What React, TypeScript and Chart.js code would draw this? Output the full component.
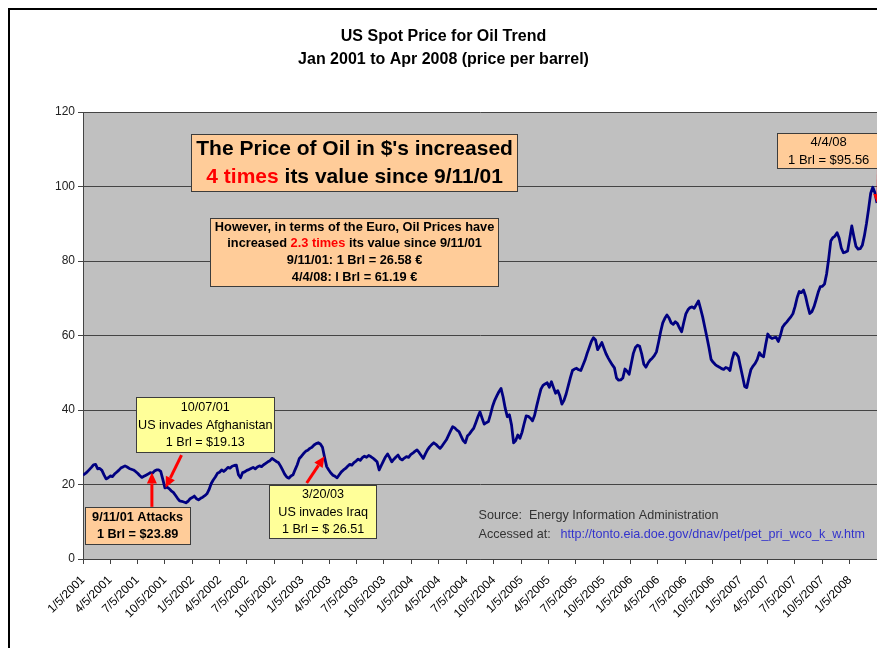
import { useEffect, useRef } from "react";
import { Chart, registerables } from "chart.js";

Chart.register(...registerables);

const FONT = '"Liberation Sans", Arial, Helvetica, sans-serif';

// Quarterly x-axis tick labels (Excel date axis)
const tickLabels = [
  "1/5/2001", "4/5/2001", "7/5/2001", "10/5/2001",
  "1/5/2002", "4/5/2002", "7/5/2002", "10/5/2002",
  "1/5/2003", "4/5/2003", "7/5/2003", "10/5/2003",
  "1/5/2004", "4/5/2004", "7/5/2004", "10/5/2004",
  "1/5/2005", "4/5/2005", "7/5/2005", "10/5/2005",
  "1/5/2006", "4/5/2006", "7/5/2006", "10/5/2006",
  "1/5/2007", "4/5/2007", "7/5/2007", "10/5/2007",
  "1/5/2008",
];
const firstWeek = "1/5/2001";
const yTickStep = 20;
const yMax = 120;

// Weekly spot price ($/barrel), one value per Friday starting 1/5/2001
const prices2001 = [
  22.5, 22.9, 23.4, 24.0, 24.6, 25.3, 25.4, 24.2, 24.3, 23.8, 22.6, 21.5, 21.8,
  22.3, 22.1, 22.8, 23.3, 23.8, 24.4, 24.7, 25.0, 24.7, 24.3, 24.1, 23.9, 23.5,
  23.0, 22.4, 21.9, 22.2, 22.5, 22.8, 23.2, 23.0, 23.6, 23.9, 23.9, 23.5, 21.4,
  19.1, 19.3, 18.9, 18.3, 17.9, 17.1, 16.3, 15.6, 15.5, 15.3, 15.1, 15.5, 16.2,
];
const prices2002 = [
  16.5, 16.9, 16.2, 15.9, 16.3, 16.6, 17.0, 17.5, 18.6, 20.2, 21.2, 22.0, 23.0,
  23.3, 23.9, 23.5, 24.0, 24.6, 24.4, 24.9, 25.1, 25.2, 22.6, 21.8, 23.2, 23.4,
  23.8, 24.0, 24.3, 24.6, 24.2, 24.7, 25.0, 24.8, 25.3, 25.7, 26.1, 26.4, 27.0,
  26.6, 26.2, 25.9, 25.0, 23.9, 22.8, 22.0, 21.7, 22.3, 22.6, 24.0, 25.3, 27.0,
];
const prices2003 = [
  27.6, 28.3, 28.9, 29.2, 29.7, 30.0, 30.6, 31.0, 31.2, 30.9, 30.0, 27.3, 24.8,
  23.9, 23.1, 22.5, 22.2, 21.8, 22.6, 23.4, 23.9, 24.3, 24.9, 25.4, 25.2, 25.9,
  26.3, 26.8, 26.5, 27.2, 27.6, 27.3, 27.8, 27.5, 27.1, 26.6, 26.1, 23.9, 25.1,
  26.3, 27.4, 28.2, 27.2, 26.1, 26.8, 27.4, 27.9, 26.9, 26.6, 27.1, 27.5, 27.3,
];
const prices2004 = [
  28.0, 28.4, 28.9, 29.3, 28.6, 27.8, 27.0, 28.2, 29.3, 30.1, 30.7, 31.2, 30.8,
  30.2, 29.7, 30.4, 31.2, 32.0, 33.2, 34.4, 35.5, 35.2, 34.6, 34.2, 33.0, 31.8,
  31.2, 33.0, 33.6, 34.4, 35.1, 36.6, 38.2, 39.5, 37.8, 36.2, 36.6, 36.9, 38.8,
  41.0, 42.6, 43.8, 44.9, 45.8, 43.5, 40.5, 38.2, 38.7, 36.0, 31.2, 31.8, 33.3, 32.4,
];
const prices2005 = [
  34.0, 36.3, 38.4, 38.3, 37.8, 37.1, 38.6, 41.1, 43.4, 45.6, 46.6, 47.0, 47.3,
  46.1, 47.6, 46.0, 44.5, 45.2, 43.8, 41.6, 42.6, 44.3, 46.5, 48.6, 50.6, 51.0,
  51.2, 50.8, 50.6, 52.0, 53.4, 55.2, 56.8, 58.4, 59.4, 58.8, 56.2, 57.1, 58.1,
  56.6, 55.1, 54.0, 53.0, 52.1, 51.3, 48.6, 48.0, 48.1, 48.6, 51.0, 50.4, 49.6,
];
const prices2006 = [
  52.4, 55.2, 56.8, 57.4, 57.1, 55.0, 52.3, 51.5, 52.6, 53.4, 53.9, 54.6, 55.6,
  58.2, 61.0, 63.4, 64.6, 65.5, 64.7, 63.4, 63.0, 63.7, 63.2, 62.0, 61.0, 63.5,
  65.8, 66.9, 67.5, 67.7, 67.3, 68.3, 69.3, 67.2, 65.0, 62.3, 59.6, 56.8, 53.6,
  52.8, 52.2, 51.8, 51.5, 51.1, 50.9, 51.4, 51.2, 50.6, 53.5, 55.4, 55.1, 54.3,
];
const prices2007 = [
  51.6, 49.0, 46.3, 46.0, 48.6, 50.9, 51.8, 52.5, 53.6, 55.4, 54.6, 54.3, 57.5,
  60.4, 59.6, 59.2, 59.4, 59.5, 58.4, 60.0, 62.2, 63.0, 63.6, 64.3, 65.0, 65.9,
  67.8, 70.2, 71.8, 71.5, 72.2, 70.5, 68.0, 65.9, 66.4, 67.7, 69.6, 71.6, 73.1,
  73.2, 73.8, 76.5, 80.6, 85.4, 86.3, 86.7, 87.6, 86.1, 83.5, 82.2, 82.4, 82.7,
];
const prices2008 = [
  86.0, 89.4, 86.5, 83.9, 83.2, 83.3, 84.2, 86.8, 90.1, 94.0, 98.2, 99.8, 98.3, 95.56,
];

const weeklyPrices = [
  ...prices2001, ...prices2002, ...prices2003, ...prices2004,
  ...prices2005, ...prices2006, ...prices2007, ...prices2008,
];

function weeksSinceStart(label: string): number {
  const [m, d, y] = label.split("/").map(Number);
  const [m0, d0, y0] = firstWeek.split("/").map(Number);
  return (Date.UTC(y, m - 1, d) - Date.UTC(y0, m0 - 1, d0)) / (7 * 86400000);
}
const tickWeeks = tickLabels.map(weeksSinceStart);

// ---------- annotations (positions in data units: week index, price) ----------
const RED = "#ff0000";
const PEACH = "#ffcc99";
const YELLOW = "#ffff99";
type Seg = { t: string; c?: string };
type Note = {
  w: number; v: number; width: number; height: number;
  fill: string; font: string; lineH: number; lines: Seg[][];
};
const notes: Note[] = [
  {
    w: 129.3, v: 106.3, width: 327, height: 58, fill: PEACH,
    font: `bold 21px ${FONT}`, lineH: 28,
    lines: [
      [{ t: "The Price of Oil in $'s increased" }],
      [{ t: "4 times", c: RED }, { t: " its value since 9/11/01" }],
    ],
  },
  {
    w: 129.3, v: 82.4, width: 289, height: 69, fill: PEACH,
    font: `bold 12.8px ${FONT}`, lineH: 16.7,
    lines: [
      [{ t: "However, in terms of the Euro, Oil Prices have" }],
      [{ t: "increased " }, { t: "2.3 times", c: RED }, { t: " its value since 9/11/01" }],
      [{ t: "9/11/01: 1 Brl = 26.58 €" }],
      [{ t: "4/4/08: l Brl = 61.19 €" }],
    ],
  },
  {
    w: 355.0, v: 109.5, width: 104, height: 36, fill: PEACH,
    font: `13px ${FONT}`, lineH: 17.7,
    lines: [[{ t: "4/4/08" }], [{ t: "1 Brl = $95.56" }]],
  },
  {
    w: 58.2, v: 35.9, width: 139, height: 56, fill: YELLOW,
    font: `12.6px ${FONT}`, lineH: 17.5,
    lines: [[{ t: "10/07/01" }], [{ t: "US invades Afghanistan" }], [{ t: "1 Brl = $19.13" }]],
  },
  {
    w: 26.0, v: 8.9, width: 106, height: 38, fill: PEACH,
    font: `bold 12.7px ${FONT}`, lineH: 17.3,
    lines: [[{ t: "9/11/01 Attacks" }], [{ t: "1 Brl = $23.89" }]],
  },
  {
    w: 114.3, v: 12.6, width: 108, height: 54, fill: YELLOW,
    font: `12.6px ${FONT}`, lineH: 17.5,
    lines: [[{ t: "3/20/03" }], [{ t: "US invades Iraq" }], [{ t: "1 Brl = $ 26.51" }]],
  },
];
// arrows: [fromWeek, fromValue, toWeek, toValue]
const arrows: [number, number, number, number][] = [
  [32.8, 14.0, 32.8, 23.2],
  [46.9, 27.9, 39.3, 19.1],
  [106.5, 20.4, 115.0, 27.6],
  [378.7, 104.7, 378.5, 95.0],
];
const sourceNote = { w: 188.3, v1: 11.6, v2: 6.6, urlOffset: 82 };

function drawArrow(ctx: CanvasRenderingContext2D, x1: number, y1: number, x2: number, y2: number) {
  const ang = Math.atan2(y2 - y1, x2 - x1);
  const head = 11;
  const half = 5;
  const bx = x2 - head * Math.cos(ang);
  const by = y2 - head * Math.sin(ang);
  ctx.strokeStyle = RED;
  ctx.fillStyle = RED;
  ctx.lineWidth = 3;
  ctx.lineCap = "butt";
  ctx.beginPath();
  ctx.moveTo(x1, y1);
  ctx.lineTo(bx, by);
  ctx.stroke();
  ctx.beginPath();
  ctx.moveTo(x2, y2);
  ctx.lineTo(bx + half * Math.sin(ang), by - half * Math.cos(ang));
  ctx.lineTo(bx - half * Math.sin(ang), by + half * Math.cos(ang));
  ctx.closePath();
  ctx.fill();
}

const notesPlugin = {
  id: "oilNotes",
  beforeDraw(chart: any) {
    const { ctx, chartArea: a } = chart;
    ctx.save();
    ctx.fillStyle = "#ffffff";
    ctx.fillRect(0, 0, chart.width, chart.height);
    ctx.fillStyle = "#c0c0c0";
    ctx.fillRect(a.left, a.top, a.right - a.left, a.bottom - a.top);
    ctx.restore();
  },
  afterDraw(chart: any) {
    const { ctx } = chart;
    const xs = chart.scales.x;
    const ys = chart.scales.y;
    const px = (w: number) => xs.getPixelForValue(w);
    const py = (v: number) => ys.getPixelForValue(v);
    ctx.save();

    for (const [w1, v1, w2, v2] of arrows) {
      drawArrow(ctx, px(w1), py(v1), px(w2), py(v2));
    }

    for (const n of notes) {
      const cx = px(n.w);
      const cy = py(n.v);
      const x0 = Math.round(cx - n.width / 2);
      const y0 = Math.round(cy - n.height / 2);
      ctx.fillStyle = n.fill;
      ctx.fillRect(x0, y0, n.width, n.height);
      ctx.strokeStyle = "#3c3c3c";
      ctx.lineWidth = 1;
      ctx.strokeRect(x0 + 0.5, y0 + 0.5, n.width - 1, n.height - 1);
      ctx.font = n.font;
      ctx.textBaseline = "middle";
      ctx.textAlign = "left";
      n.lines.forEach((line, i) => {
        const ly = cy + (i - (n.lines.length - 1) / 2) * n.lineH;
        const total = line.reduce((s, seg) => s + ctx.measureText(seg.t).width, 0);
        let lx = cx - total / 2;
        for (const seg of line) {
          ctx.fillStyle = seg.c || "#000000";
          ctx.fillText(seg.t, lx, ly);
          lx += ctx.measureText(seg.t).width;
        }
      });
    }

    // source text
    const sx = px(sourceNote.w);
    ctx.font = `12.6px ${FONT}`;
    ctx.textBaseline = "middle";
    ctx.textAlign = "left";
    ctx.fillStyle = "#333333";
    ctx.fillText("Source:  Energy Information Administration", sx, py(sourceNote.v1));
    ctx.fillText("Accessed at:", sx, py(sourceNote.v2));
    ctx.fillStyle = "#3333cc";
    ctx.fillText("http://tonto.eia.doe.gov/dnav/pet/pet_pri_wco_k_w.htm", sx + sourceNote.urlOffset, py(sourceNote.v2));
    ctx.restore();
  },
};

const CANVAS_W = 880;
const CANVAS_H = 660;

export default function App() {
  const ref = useRef<HTMLCanvasElement | null>(null);

  useEffect(() => {
    if (!ref.current) return;
    const chart = new Chart(ref.current, {
      type: "line",
      data: {
        datasets: [
          {
            label: "US Spot Price",
            data: weeklyPrices.map((v, i) => ({ x: i, y: v })),
            borderColor: "#000080",
            borderWidth: 2.8,
            pointRadius: 0,
            pointHoverRadius: 0,
            fill: false,
            tension: 0,
            borderJoinStyle: "round",
          },
        ],
      },
      options: {
        responsive: false,
        animation: false,
        devicePixelRatio: 1,
        events: [],
        layout: { padding: { left: 0, right: 13, top: 0, bottom: 0 } },
        plugins: {
          legend: { display: false },
          tooltip: { enabled: false },
          title: {
            display: true,
            text: ["US Spot Price for Oil Trend", "Jan 2001 to Apr 2008 (price per barrel)"],
            color: "#000000",
            font: { family: FONT, size: 16, weight: "bold", lineHeight: "23px" },
            padding: { top: 15.5, bottom: 40.5 },
          },
        },
        scales: {
          x: {
            type: "linear",
            min: 0,
            max: weeklyPrices.length - 1,
            afterBuildTicks: (scale: any) => {
              scale.ticks = tickWeeks.map((value) => ({ value }));
            },
            afterFit: (scale: any) => {
              scale.height = CANVAS_H - 549;
            },
            grid: { drawOnChartArea: false, drawTicks: true, tickLength: 5, color: "#404040" },
            border: { color: "#404040", width: 1 },
            ticks: {
              autoSkip: false,
              maxRotation: 45,
              minRotation: 45,
              padding: 9,
              color: "#000000",
              font: { family: FONT, size: 12 },
              callback: (_v: any, i: number) => tickLabels[i] ?? "",
            },
          },
          y: {
            min: 0,
            max: yMax,
            afterFit: (scale: any) => {
              scale.width = 73;
            },
            grid: { color: "#444444", tickLength: 5 },
            border: { color: "#444444" },
            ticks: {
              stepSize: yTickStep,
              color: "#222222",
              font: { family: FONT, size: 12 },
            },
          },
        },
      },
      plugins: [notesPlugin],
    } as any);
    return () => chart.destroy();
  }, []);

  return (
    <div style={{ position: "fixed", inset: 0, overflow: "hidden", background: "#ffffff" }}>
      <div
        style={{
          position: "absolute",
          left: 8,
          top: 8,
          width: 920,
          height: 720,
          borderLeft: "2px solid #000",
          borderTop: "2px solid #000",
        }}
      >
        <canvas
          ref={ref}
          width={CANVAS_W}
          height={CANVAS_H}
          style={{ display: "block", width: CANVAS_W, height: CANVAS_H }}
        />
      </div>
    </div>
  );
}
